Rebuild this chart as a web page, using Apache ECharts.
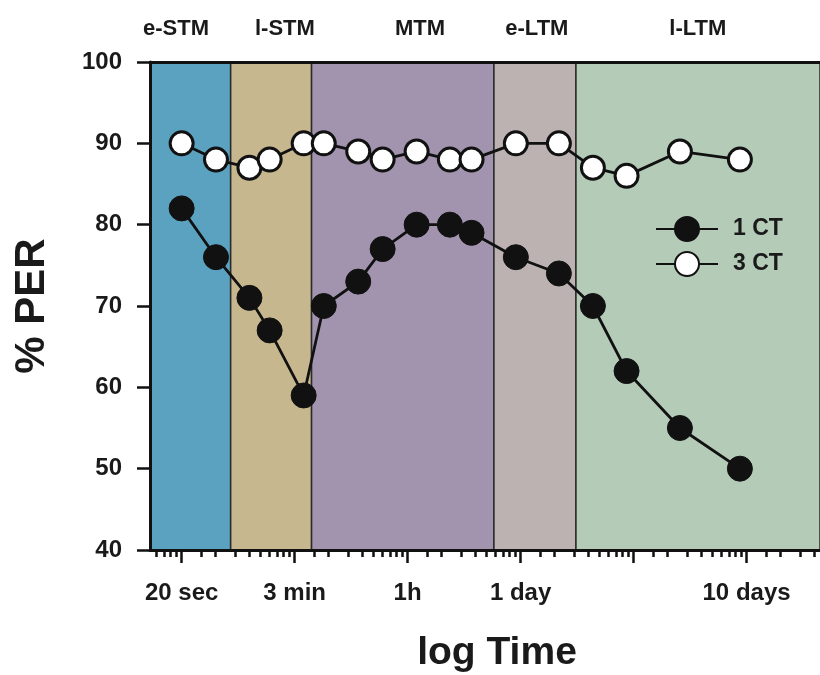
<!DOCTYPE html>
<html>
<head>
<meta charset="utf-8">
<script src="https://cdn.jsdelivr.net/npm/echarts@6/dist/echarts.min.js"></script>
<style>
html,body{margin:0;padding:0;background:#fff;}
#chart{width:820px;height:675px;}
</style>
</head>
<body>
<div id="chart"></div>
<script>
// x positions in log-decade units (0 = "20 sec" major tick)
const xPos = [0, 0.304, 0.600, 0.779, 1.080, 1.258, 1.563, 1.779, 2.080, 2.374, 2.566, 2.958, 3.339, 3.640, 3.938, 4.410, 4.941];
const ct1 = [82, 76, 71, 67, 59, 70, 73, 77, 80, 80, 79, 76, 74, 70, 62, 55, 50];
const ct3 = [90, 88, 87, 88, 90, 90, 89, 88, 89, 88, 88, 90, 90, 87, 86, 89, 88];
const seriesNames = ['1 CT', '3 CT'];

const xMin = -0.28, xMax = 5.65;
const majorTicks = [0, 1, 2, 3, 4, 5];
const xLabelPos = [0, 1, 2, 3, 5];
const xLabelText = ['20 sec', '3 min', '1h', '1 day', '10 days'];
const minorFactors = [1.5, 2, 3, 4, 5, 6, 7, 8, 9];

const phaseNames = ['e-STM', 'l-STM', 'MTM', 'e-LTM', 'l-LTM'];
const phaseBounds = [xMin, 0.434, 1.150, 2.764, 3.490, xMax];
const phaseColors = ['#5ba1c0', '#c6b78f', '#a294ae', '#bbb2b1', '#b4cbb8'];
const phaseLabelPos = [-0.05, 0.914, 2.109, 3.144, 4.569];

const yMin = 40, yMax = 100, yStep = 10;

const minorTicks = [];
for (let d = -1; d <= 5; d++) {
  minorFactors.forEach(k => {
    const v = d + Math.log10(k);
    if (v > xMin && v < xMax) minorTicks.push(v);
  });
}

const FONT = 'Liberation Sans';
const TXT = '#1a1a1a';
const chart = echarts.init(document.getElementById('chart'), null, {renderer: 'canvas'});

const areaData = phaseNames.map((n, i) => [
  {xAxis: phaseBounds[i], yAxis: yMax, itemStyle: {color: phaseColors[i], borderColor: '#2a2a2a', borderWidth: 1.5}},
  {xAxis: phaseBounds[i + 1], yAxis: yMin}
]);

const option = {
  animation: false,
  backgroundColor: '#fff',
  grid: {left: 150, right: 0, top: 62, bottom: 125, containLabel: false, outerBoundsMode: 'none'},
  legend: {
    orient: 'vertical',
    left: 655,
    top: 216,
    padding: 0,
    itemWidth: 62,
    itemHeight: 30,
    itemGap: 9,
    data: seriesNames,
    textStyle: {fontFamily: FONT, fontWeight: 'bold', fontSize: 23, color: TXT, padding: [0, 0, 0, 10]}
  },
  xAxis: [
    {
      type: 'value', min: xMin, max: xMax, position: 'bottom', z: 10,
      axisLine: {show: true, onZero: false, lineStyle: {color: '#111', width: 3}},
      axisTick: {show: true, customValues: majorTicks, length: 13, lineStyle: {color: '#111', width: 2.5}},
      axisLabel: {
        show: true, customValues: xLabelPos, margin: 31,
        fontFamily: FONT, fontWeight: 'bold', fontSize: 24, color: TXT,
        formatter: v => { const i = xLabelPos.findIndex(p => Math.abs(p - v) < 1e-6); return i >= 0 ? xLabelText[i] : ''; }
      },
      splitLine: {show: false},
      name: 'log Time', nameLocation: 'middle', nameGap: 84,
      nameTextStyle: {fontFamily: FONT, fontWeight: 'bold', fontSize: 39, color: TXT, padding: [0, 0, 0, 24]}
    },
    {
      type: 'value', min: xMin, max: xMax, position: 'bottom', z: 10,
      axisLine: {show: false, onZero: false},
      axisTick: {show: true, customValues: minorTicks, length: 7, lineStyle: {color: '#111', width: 2.5}},
      axisLabel: {show: false},
      splitLine: {show: false}
    },
    {
      type: 'value', min: xMin, max: xMax, position: 'top', z: 10,
      axisLine: {show: true, onZero: false, lineStyle: {color: '#111', width: 3}},
      axisTick: {show: false},
      axisLabel: {
        show: true, customValues: phaseLabelPos, margin: 22,
        fontFamily: FONT, fontWeight: 'bold', fontSize: 22, color: TXT,
        formatter: v => { const i = phaseLabelPos.findIndex(p => Math.abs(p - v) < 1e-6); return i >= 0 ? phaseNames[i] : ''; }
      },
      splitLine: {show: false}
    }
  ],
  yAxis: {
    type: 'value', min: yMin, max: yMax, interval: yStep, z: 10,
    axisLine: {show: true, onZero: false, lineStyle: {color: '#111', width: 3}},
    axisTick: {show: true, length: 13, lineStyle: {color: '#111', width: 2.5}},
    axisLabel: {margin: 28, fontFamily: FONT, fontWeight: 'bold', fontSize: 24, color: TXT},
    splitLine: {show: false},
    name: '% PER', nameLocation: 'middle', nameGap: 97,
    nameTextStyle: {fontFamily: FONT, fontWeight: 'bold', fontSize: 42, color: TXT}
  },
  series: [
    {
      name: 'phases', type: 'line', data: [], z: 1, silent: true,
      markArea: {silent: true, data: areaData}
    },
    {
      name: seriesNames[0], type: 'line', z: 4,
      data: xPos.map((x, i) => [x, ct1[i]]),
      symbol: 'circle', symbolSize: 25,
      lineStyle: {color: '#111', width: 2.8},
      itemStyle: {color: '#111', borderColor: '#111', borderWidth: 1}
    },
    {
      name: seriesNames[1], type: 'line', z: 4,
      data: xPos.map((x, i) => [x, ct3[i]]),
      symbol: 'circle', symbolSize: 23,
      lineStyle: {color: '#111', width: 2.8},
      itemStyle: {color: '#fff', borderColor: '#111', borderWidth: 3}
    }
  ]
};
chart.setOption(option);
</script>
</body>
</html>
